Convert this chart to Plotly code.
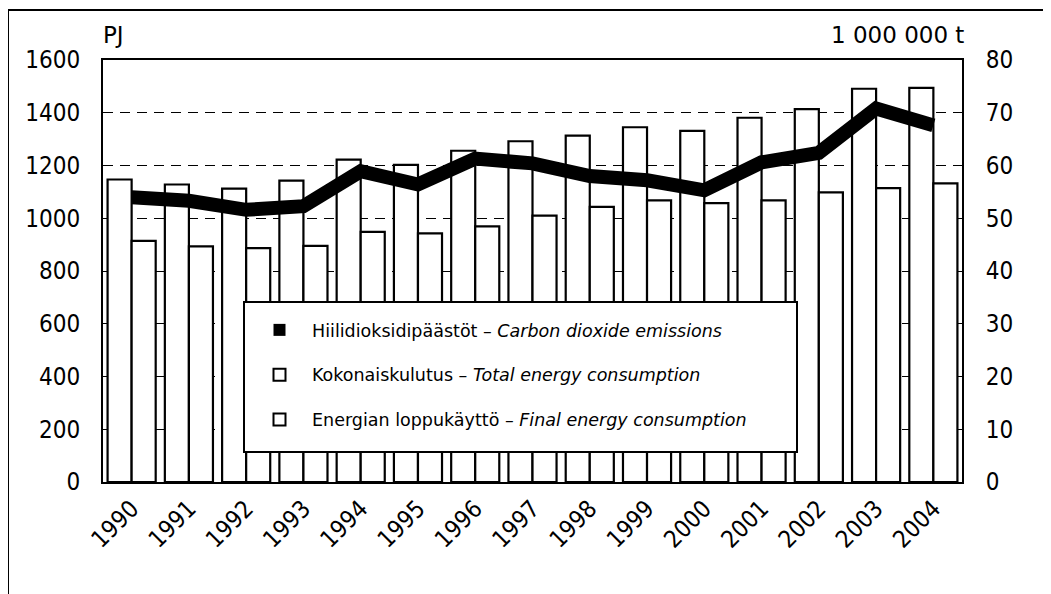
import plotly.graph_objects as go

years = [str(y) for y in range(1990, 2005)]
total_energy = [1147, 1128, 1112, 1143, 1222, 1202, 1256, 1292, 1313, 1345, 1331, 1381, 1414, 1491, 1494]
final_energy = [914, 893, 887, 895, 948, 943, 969, 1010, 1043, 1068, 1057, 1068, 1098, 1114, 1132]
co2 = [54.0, 53.3, 51.6, 52.3, 58.9, 56.4, 61.3, 60.4, 58.0, 57.2, 55.3, 60.6, 62.4, 70.8, 67.6]

FONT = "DejaVu Sans Condensed, DejaVu Sans"
LFONT = "DejaVu Sans"

fig = go.Figure()
fig.add_trace(go.Bar(
    x=years, y=total_energy, name="Kokonaiskulutus – <i>Total energy consumption</i>",
    marker=dict(color="white", line=dict(color="black", width=2.2)), legendrank=2,
    legendgroup="b",
))
fig.add_trace(go.Bar(
    x=years, y=final_energy, name="Energian loppukäyttö – <i>Final energy consumption</i>",
    marker=dict(color="white", line=dict(color="black", width=2.2)), legendrank=3,
    legendgroup="c",
))
fig.add_trace(go.Scatter(
    x=years, y=co2, yaxis="y2", mode="lines", line=dict(color="black", width=14),
    showlegend=False,
))
fig.add_trace(go.Scatter(
    x=[None], y=[None], yaxis="y2", mode="markers",
    marker=dict(symbol="square", color="black", size=11),
    name="Hiilidioksidipäästöt – <i>Carbon dioxide emissions</i>", legendrank=1,
    legendgroup="a",
))

# page offsets: figure starts at page (8, 8)
pw, ph = 859, 422
X0, Y0 = 103, 482  # plot area left / bottom in page px


def px(x):
    return (x - X0) / pw


def py(y):
    return (Y0 - y) / ph


fig.update_layout(
    width=1035, height=586,
    margin=dict(l=95, r=81, t=52, b=112),
    paper_bgcolor="white", plot_bgcolor="white",
    font=dict(family=FONT, color="black", size=24),
    barmode="group", bargap=0.16, bargroupgap=0,
    showlegend=True,
    legend=dict(
        x=px(247), y=py(312), xanchor="left", yanchor="top",
        bgcolor="rgba(0,0,0,0)", borderwidth=0,
        font=dict(family=LFONT, size=17.5, color="black"),
        itemsizing="constant", itemwidth=55, tracegroupgap=19, traceorder="grouped",
    ),
    xaxis=dict(
        showline=True, linecolor="black", linewidth=2, mirror=True,
        tickangle=-45, tickfont=dict(size=24), ticks="",
        showgrid=False, ticklabelstandoff=1,
    ),
    yaxis=dict(
        range=[0, 1600], dtick=200, showline=True, linecolor="black", linewidth=2,
        showgrid=True, gridcolor="black", griddash="10px,7px", gridwidth=1,
        ticks="", ticklabelstandoff=16, zeroline=False,
    ),
    yaxis2=dict(
        range=[0, 80], dtick=10, overlaying="y", side="right",
        showgrid=False, ticks="", ticklabelstandoff=17, zeroline=False,
        showline=True, linecolor="black", linewidth=2,
    ),
    annotations=[
        dict(text="PJ", x=0, y=1.0, xref="paper", yref="paper", xanchor="left",
             yanchor="bottom", yshift=10, xshift=-2, showarrow=False,
             font=dict(family=LFONT, size=23)),
        dict(text="1 000 000 t", x=1, y=1.0, xref="paper", yref="paper", xanchor="right",
             yanchor="bottom", yshift=10, xshift=4, showarrow=False,
             font=dict(family=LFONT, size=23)),
    ],
    shapes=[
        dict(type="rect", xref="paper", yref="paper",
             x0=px(8), x1=1 + 300 / pw, y0=-300 / ph, y1=py(10),
             line=dict(color="black", width=2)),
        dict(type="rect", xref="paper", yref="paper", layer="above",
             x0=px(244), x1=px(797), y0=py(452), y1=py(302),
             fillcolor="white", line=dict(color="black", width=2)),
    ],
)

fig.write_html("out.html")
